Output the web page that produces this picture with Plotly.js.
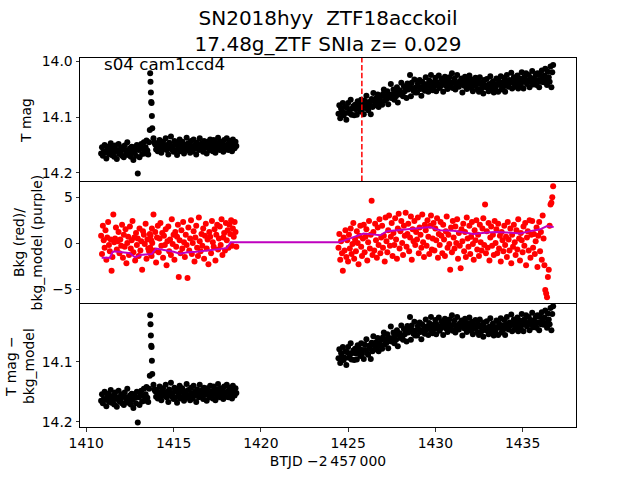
<!DOCTYPE html>
<html>
<head>
<meta charset="utf-8">
<script src="https://cdn.plot.ly/plotly-3.0.1.min.js"></script>
<style>html,body{margin:0;padding:0;background:#fff;}#chart{width:640px;height:480px;}</style>
</head>
<body>
<div id="chart"></div>
<script>
// ---- data ----
const tSeg1 = [
1410.85,1410.90,1410.95,1411.00,1411.05,1411.10,1411.15,1411.20,1411.25,1411.30,
1411.35,1411.40,1411.45,1411.50,1411.55,1411.60,1411.65,1411.70,1411.75,1411.80,
1411.85,1411.90,1411.95,1412.00,1412.05,1412.10,1412.15,1412.20,1412.25,1412.30,
1412.35,1412.40,1412.45,1412.50,1412.55,1412.60,1412.65,1412.70,1412.75,1412.80,
1412.85,1412.90,1412.95,1413.00,1413.05,1413.10,1413.15,1413.20,1413.25,1413.30,
1413.35,1413.40,1413.45,1413.50,1413.55,1413.60,1413.64,1413.66,1413.68,1413.70,
1413.72,1413.74,1413.76,1413.78,1413.85,1413.90,1413.95,1414.00,1414.05,1414.10,
1414.15,1414.20,1414.25,1414.30,1414.35,1414.40,1414.45,1414.50,1414.55,1414.60,
1414.65,1414.70,1414.75,1414.80,1414.85,1414.90,1414.95,1415.00,1415.05,1415.10,
1415.15,1415.20,1415.25,1415.30,1415.35,1415.40,1415.45,1415.50,1415.55,1415.60,
1415.65,1415.70,1415.75,1415.80,1415.85,1415.90,1415.95,1416.00,1416.05,1416.10,
1416.15,1416.20,1416.25,1416.30,1416.35,1416.40,1416.45,1416.50,1416.55,1416.60,
1416.65,1416.70,1416.75,1416.80,1416.85,1416.90,1416.95,1417.00,1417.05,1417.10,
1417.15,1417.20,1417.25,1417.30,1417.35,1417.40,1417.45,1417.50,1417.55,1417.60,
1417.65,1417.70,1417.75,1417.80,1417.85,1417.90,1417.95,1418.00,1418.05,1418.10,
1418.15,1418.20,1418.25,1418.30,1418.35,1418.40,1418.45,1418.50,1418.55,1418.60];

const magSeg1 = [
14.165,14.154,14.169,14.162,14.150,14.163,14.174,14.157,14.153,14.166,
14.160,14.147,14.168,14.165,14.156,14.171,14.151,14.162,14.175,14.159,
14.148,14.166,14.163,14.154,14.169,14.157,14.172,14.151,14.160,14.165,
14.145,14.168,14.162,14.156,14.171,14.153,14.163,14.177,14.154,14.160,
14.169,14.150,14.201,14.159,14.172,14.156,14.148,14.166,14.157,14.145,
14.165,14.154,14.142,14.160,14.167,14.145,14.123,14.022,14.037,14.056,
14.073,14.075,14.098,14.120,14.138,14.146,14.149,14.158,14.147,14.161,
14.152,14.141,14.158,14.164,14.149,14.144,14.156,14.153,14.138,14.159,
14.150,14.167,14.146,14.155,14.135,14.158,14.152,14.162,14.143,14.149,
14.159,14.168,14.147,14.155,14.140,14.161,14.150,14.144,14.158,14.165,
14.149,14.153,14.137,14.159,14.147,14.156,14.164,14.143,14.152,14.161,
14.140,14.156,14.149,14.167,14.146,14.153,14.159,14.138,14.150,14.158,
14.147,14.162,14.143,14.155,14.149,14.165,14.144,14.152,14.159,14.140,
14.156,14.149,14.161,14.141,14.153,14.164,14.146,14.156,14.137,14.150,
14.159,14.144,14.155,14.147,14.162,14.141,14.152,14.158,14.138,14.149,
14.159,14.143,14.153,14.146,14.161,14.140,14.150,14.156,14.144,14.152];

const bkgSeg1 = [
0.8,-1.2,1.9,0.3,-0.5,1.4,-1.8,0.6,2.3,-0.2,
-0.9,0.4,-3.0,-1.5,3.1,0.1,0.5,1.7,-0.7,0.2,
1.2,-1.1,0.4,-0.3,2.0,-1.6,0.9,-0.4,1.5,-2.2,
0.0,0.7,-1.3,1.8,-0.6,0.3,2.4,-1.0,0.6,-1.9,
1.1,-0.2,0.5,-1.4,1.6,-0.8,0.2,-2.9,1.3,0.9,
-0.1,2.1,-1.7,0.4,-0.6,-0.9,1.0,-0.5,0.8,-1.2,
0.3,-1.4,1.6,0.0,3.1,-0.8,1.2,-2.1,0.6,1.9,
-1.0,0.5,2.2,-0.3,1.1,-1.6,0.8,-0.2,1.5,-2.4,
0.2,1.8,-0.9,0.4,-1.3,2.6,-0.1,0.9,-1.8,1.2,
-0.4,0.7,2.0,-3.7,0.3,-1.1,1.4,-0.6,2.3,0.1,
-1.5,0.9,-0.2,-3.8,1.7,-0.8,0.5,2.5,-1.2,0.0,
1.3,-2.0,0.6,1.9,-0.5,-1.4,2.8,0.2,-0.9,1.0,
-0.3,1.6,-1.7,0.8,2.1,-0.6,0.4,-2.3,1.2,0.7,
-1.1,2.4,0.1,-0.4,1.5,-1.9,0.9,2.0,-0.7,0.5,
1.8,-0.2,2.6,-1.3,0.6,1.1,-0.8,2.2,0.3,1.4,
-0.5,2.0,1.0,2.5,-0.3,1.6,0.7,2.3,1.2,-0.4];

const tSeg2 = [
1424.45,1424.50,1424.55,1424.60,1424.65,1424.70,1424.75,1424.80,1424.85,1424.90,
1424.95,1425.00,1425.05,1425.10,1425.15,1425.20,1425.25,1425.30,1425.35,1425.40,
1425.45,1425.50,1425.55,1425.60,1425.65,1425.70,1425.75,1425.80,1425.85,1425.90,
1425.95,1426.00,1426.05,1426.10,1426.15,1426.20,1426.25,1426.30,1426.35,1426.40,
1426.45,1426.50,1426.55,1426.60,1426.65,1426.70,1426.75,1426.80,1426.85,1426.90,
1426.95,1427.00,1427.05,1427.10,1427.15,1427.20,1427.25,1427.30,1427.35,1427.40,
1427.45,1427.50,1427.55,1427.60,1427.65,1427.70,1427.75,1427.80,1427.85,1427.90,
1427.95,1428.00,1428.05,1428.10,1428.15,1428.20,1428.25,1428.30,1428.35,1428.40,
1428.45,1428.50,1428.55,1428.60,1428.65,1428.70,1428.75,1428.80,1428.85,1428.90,
1428.95,1429.00,1429.05,1429.10,1429.15,1429.20,1429.25,1429.30,1429.35,1429.40,
1429.45,1429.50,1429.55,1429.60,1429.65,1429.70,1429.75,1429.80,1429.85,1429.90,
1429.95,1430.00,1430.05,1430.10,1430.15,1430.20,1430.25,1430.30,1430.35,1430.40,
1430.45,1430.50,1430.55,1430.60,1430.65,1430.70,1430.75,1430.80,1430.85,1430.90,
1430.95,1431.00,1431.05,1431.10,1431.15,1431.20,1431.25,1431.30,1431.35,1431.40,
1431.45,1431.50,1431.55,1431.60,1431.65,1431.70,1431.75,1431.80,1431.85,1431.90,
1431.95,1432.00,1432.05,1432.10,1432.15,1432.20,1432.25,1432.30,1432.35,1432.40,
1432.45,1432.50,1432.55,1432.60,1432.65,1432.70,1432.75,1432.80,1432.85,1432.90,
1432.95,1433.00,1433.05,1433.10,1433.15,1433.20,1433.25,1433.30,1433.35,1433.40,
1433.45,1433.50,1433.55,1433.60,1433.65,1433.70,1433.75,1433.80,1433.85,1433.90,
1433.95,1434.00,1434.05,1434.10,1434.15,1434.20,1434.25,1434.30,1434.35,1434.40,
1434.45,1434.50,1434.55,1434.60,1434.65,1434.70,1434.75,1434.80,1434.85,1434.90,
1434.95,1435.00,1435.05,1435.10,1435.15,1435.20,1435.25,1435.30,1435.35,1435.40,
1435.45,1435.50,1435.55,1435.60,1435.65,1435.70,1435.75,1435.80,1435.85,1435.90,
1435.95,1436.00,1436.05,1436.10,1436.15,1436.20,1436.25,1436.30,1436.35,1436.40,
1436.45,1436.50,1436.55,1436.60,1436.65,1436.70,1436.75];

const magSeg2 = [
14.094,14.079,14.102,14.085,14.090,14.075,14.097,14.093,14.082,14.105,
14.084,14.075,14.093,14.088,14.069,14.096,14.085,14.081,14.097,14.078,
14.086,14.096,14.072,14.083,14.078,14.090,14.069,14.087,14.080,14.095,
14.071,14.080,14.062,14.085,14.088,14.073,14.077,14.095,14.068,14.082,
14.057,14.072,14.079,14.067,14.076,14.060,14.082,14.069,14.073,14.063,
14.078,14.059,14.051,14.071,14.063,14.068,14.054,14.077,14.060,14.065,
14.041,14.066,14.060,14.051,14.069,14.056,14.063,14.047,14.074,14.053,
14.052,14.060,14.039,14.057,14.063,14.045,14.054,14.049,14.066,14.040,
14.051,14.042,14.025,14.063,14.039,14.048,14.053,14.033,14.056,14.047,
14.056,14.040,14.046,14.034,14.050,14.062,14.037,14.047,14.041,14.053,
14.029,14.046,14.041,14.055,14.035,14.043,14.025,14.049,14.052,14.038,
14.045,14.030,14.054,14.038,14.042,14.026,14.048,14.044,14.032,14.039,
14.055,14.034,14.028,14.044,14.040,14.050,14.035,14.029,14.046,14.041,
14.022,14.048,14.037,14.031,14.051,14.042,14.025,14.039,14.046,14.036,
14.041,14.031,14.056,14.034,14.044,14.028,14.038,14.050,14.035,14.046,
14.026,14.041,14.048,14.033,14.054,14.038,14.044,14.030,14.042,14.050,
14.037,14.055,14.029,14.041,14.049,14.038,14.058,14.034,14.043,14.047,
14.032,14.045,14.054,14.041,14.027,14.051,14.047,14.036,14.056,14.042,
14.048,14.031,14.042,14.055,14.036,14.043,14.027,14.051,14.039,14.046,
14.030,14.055,14.037,14.025,14.042,14.046,14.034,14.039,14.021,14.049,
14.038,14.029,14.046,14.034,14.041,14.026,14.049,14.035,14.031,14.043,
14.020,14.037,14.049,14.029,14.034,14.022,14.041,14.035,14.025,14.047,
14.030,14.037,14.018,14.042,14.031,14.036,14.025,14.043,14.022,14.034,
14.047,14.025,14.037,14.017,14.031,14.038,14.026,14.014,14.035,14.043,
14.019,14.029,14.037,14.010,14.047,14.020,14.007];

const bkgSeg2 = [
-0.5,1.0,-1.8,0.2,-1.1,-3.0,0.6,-0.8,1.4,-1.5,
0.3,-2.0,0.9,-0.6,1.6,-1.2,-0.1,2.2,-1.7,0.4,
-0.9,1.3,0.0,-2.3,0.8,1.9,-0.4,-1.4,0.5,2.0,
-1.0,0.7,1.5,-1.9,0.1,2.4,-0.6,0.9,4.6,-1.3,
1.2,-0.8,2.1,0.3,-1.6,1.7,-0.2,2.6,-1.1,0.6,
1.9,-0.5,0.8,-2.0,2.8,0.2,-1.0,1.4,3.0,-0.3,
0.7,2.2,-1.4,1.1,-0.2,2.7,0.4,-1.7,1.6,3.2,
-0.6,1.3,2.4,0.0,-1.3,1.9,0.8,3.3,-0.4,1.0,
2.1,-0.9,0.6,2.9,-1.8,1.5,0.2,2.4,-0.2,1.2,
0.4,2.8,-1.1,1.7,0.9,-0.5,3.1,0.1,-1.5,2.0,
1.4,-0.3,2.5,0.7,-1.2,1.9,3.0,-0.7,0.5,2.2,
-0.8,1.6,0.3,2.7,-1.6,1.0,-0.2,2.3,0.8,-1.1,
2.0,0.4,-1.4,1.3,2.9,-0.5,0.9,-0.1,-2.9,1.7,
-1.0,2.4,0.6,-0.6,1.8,0.0,2.6,-1.7,1.1,-0.3,
-2.75,1.5,0.2,2.1,-0.9,1.2,-1.5,2.8,0.5,-0.4,
1.9,-1.2,0.7,2.3,-0.1,-1.8,1.4,0.3,2.5,-0.7,
0.9,-1.4,2.0,0.1,-0.8,1.6,2.7,-0.2,4.2,-1.1,
1.3,-0.5,2.2,-1.9,0.6,1.8,-0.3,0.9,-1.3,2.4,
0.0,1.5,-1.1,2.1,-0.6,0.8,-2.0,1.2,0.3,-0.9,
1.9,-0.2,0.7,-1.5,2.3,0.4,-0.8,1.6,-2.2,0.9,
-0.4,2.0,0.1,-1.3,1.4,-0.7,2.6,0.5,-1.9,1.1,
0.3,-1.0,1.8,-0.3,2.2,-2.4,0.6,1.3,-0.8,2.5,
-1.6,0.9,2.4,-0.5,1.0,-1.2,0.2,1.7,-2.6,0.8,
2.3,-0.9,1.2,-1.8,3.0,0.5,-2.4,-5.1,-5.5,-5.9,
-3.7,-2.9,1.9,4.2,4.4,5.0,6.2];

const modelT = [1410.88,1411.36,1411.50,1411.60,1412.30,1412.50,1412.79,1413.08,1413.40,1413.75,
1414.00,1414.30,1414.61,1415.00,1415.37,1415.80,1416.33,1416.80,1417.28,1417.70,1418.05,1418.28,1418.60,
1424.45,1424.80,1425.12,1425.50,1425.89,1426.40,1426.84,1427.23,1427.80,1428.37,1429.00,1429.71,1430.00,
1430.28,1431.05,1431.60,1432.19,1432.96,1433.50,1434.10,1434.87,1435.30,1435.63,1436.00,1436.40,1436.78];
const modelV = [-1.6,-1.6,-1.0,-0.9,-1.05,-1.1,-1.55,-1.3,-1.25,-1.2,
-0.6,-0.7,-0.85,-0.95,-1.15,-1.0,-0.95,-0.85,-0.75,-0.7,-0.55,0.1,0.1,
0.1,0.3,0.5,0.8,1.05,0.95,0.85,1.3,1.4,1.5,1.6,1.75,1.55,
1.4,1.35,1.2,1.0,1.15,1.2,1.15,1.05,1.25,1.4,1.5,1.85,1.75];

const discoveryT = [1425.79];
const xTicks = [1410,1415,1420,1425,1430,1435];
const magTicksTop = [14.0,14.1,14.2];
const bkgTicks = [-5,0,5];
const magTicksBottom = [14.0,14.1,14.2];

// ---- figure ----
const tAll = tSeg1.concat(tSeg2);
const magAll = magSeg1.concat(magSeg2);
const bkgAll = bkgSeg1.concat(bkgSeg2);

const FONT = 'DejaVu Sans, Liberation Sans, sans-serif';
const mk = (c) => ({color: c, size: 6, line: {width: 0}});

const traces = [
  {x: tAll, y: magAll, xaxis: 'x3', yaxis: 'y', mode: 'markers', type: 'scatter', marker: mk('#000000'), hoverinfo: 'skip'},
  {x: tAll, y: bkgAll, xaxis: 'x2', yaxis: 'y2', mode: 'markers', type: 'scatter', marker: mk('#ff0000'), hoverinfo: 'skip'},
  {x: modelT, y: modelV, xaxis: 'x2', yaxis: 'y2', mode: 'lines', type: 'scatter', line: {color: '#bf00bf', width: 2}, hoverinfo: 'skip'},
  {x: tAll, y: magAll, xaxis: 'x', yaxis: 'y3', mode: 'markers', type: 'scatter', marker: mk('#000000'), hoverinfo: 'skip'}
];

const xr = [1409.64, 1438.06];
const axBase = {
  showgrid: false, zeroline: false, showline: true, mirror: true,
  linecolor: '#000', linewidth: 1, ticks: 'outside', ticklen: 3.5, tickwidth: 0.8,
  tickcolor: '#000', tickfont: {family: FONT, size: 13.9, color: '#000'}
};

const layout = {
  width: 640, height: 480,
  paper_bgcolor: '#fff', plot_bgcolor: '#fff',
  showlegend: false,
  margin: {l: 80, r: 64, t: 58, b: 53, pad: 0},
  font: {family: FONT, size: 13.9, color: '#000'},
  title: {
    text: 'SN2018hyy\u00a0 ZTF18acckoil<br>17.48g_ZTF SNIa z= 0.029',
    font: {family: FONT, size: 20, color: '#000'},
    x: 0.5, xref: 'paper', xanchor: 'center',
    y: 0.948, yref: 'container', yanchor: 'top'
  },
  xaxis: Object.assign({}, axBase, {
    domain: [0, 1], anchor: 'y3', range: xr, tickmode: 'array', tickvals: xTicks,
    title: {text: 'BTJD \u22122\u2009457\u2009000', font: {family: FONT, size: 13.9, color: '#000'}, standoff: 6}
  }),
  xaxis2: Object.assign({}, axBase, {
    domain: [0, 1], anchor: 'y2', matches: 'x', range: xr, ticks: '', showticklabels: false, showline: false
  }),
  xaxis3: Object.assign({}, axBase, {
    domain: [0, 1], anchor: 'y', matches: 'x', range: xr, ticks: '', showticklabels: false
  }),
  yaxis: Object.assign({}, axBase, {
    domain: [2/3, 1], anchor: 'x3', range: [14.2143, 13.9946],
    tickmode: 'array', tickvals: magTicksTop, tickformat: '.1f'
  }),
  yaxis2: Object.assign({}, axBase, {
    domain: [1/3, 2/3], anchor: 'x2', range: [-6.63, 6.76],
    tickmode: 'array', tickvals: bkgTicks, tickformat: 'd'
  }),
  yaxis3: Object.assign({}, axBase, {
    domain: [0, 1/3], anchor: 'x', range: [14.2087, 14.0033],
    tickmode: 'array', tickvals: magTicksBottom, tickformat: '.1f'
  }),
  shapes: [{
    type: 'line', xref: 'x3', yref: 'y domain',
    x0: discoveryT[0], x1: discoveryT[0], y0: 0, y1: 1,
    line: {color: '#ff0000', width: 1.5, dash: '5.5px,2.4px'}
  }],
  annotations: [
    {text: 's04 cam1ccd4', xref: 'paper', yref: 'paper', x: 0.045, y: 0.985,
     xanchor: 'left', yanchor: 'middle', showarrow: false,
     font: {family: FONT, size: 16.7, color: '#000'}},
    {text: 'T mag', xref: 'paper', yref: 'paper', x: -0.109, y: 0.832,
     xanchor: 'center', yanchor: 'middle', textangle: -90, showarrow: false,
     font: {family: FONT, size: 13.9, color: '#000'}},
    {text: 'Bkg (red)/<br>bkg_model (purple)', xref: 'paper', yref: 'paper', x: -0.105, y: 0.5,
     xanchor: 'center', yanchor: 'middle', textangle: -90, showarrow: false,
     font: {family: FONT, size: 13.9, color: '#000'}},
    {text: 'T mag \u2212<br>bkg_model', xref: 'paper', yref: 'paper', x: -0.121, y: 0.165,
     xanchor: 'center', yanchor: 'middle', textangle: -90, showarrow: false,
     font: {family: FONT, size: 13.9, color: '#000'}}
  ]
};

Plotly.newPlot('chart', traces, layout, {staticPlot: true, displayModeBar: false});
</script>
</body>
</html>
